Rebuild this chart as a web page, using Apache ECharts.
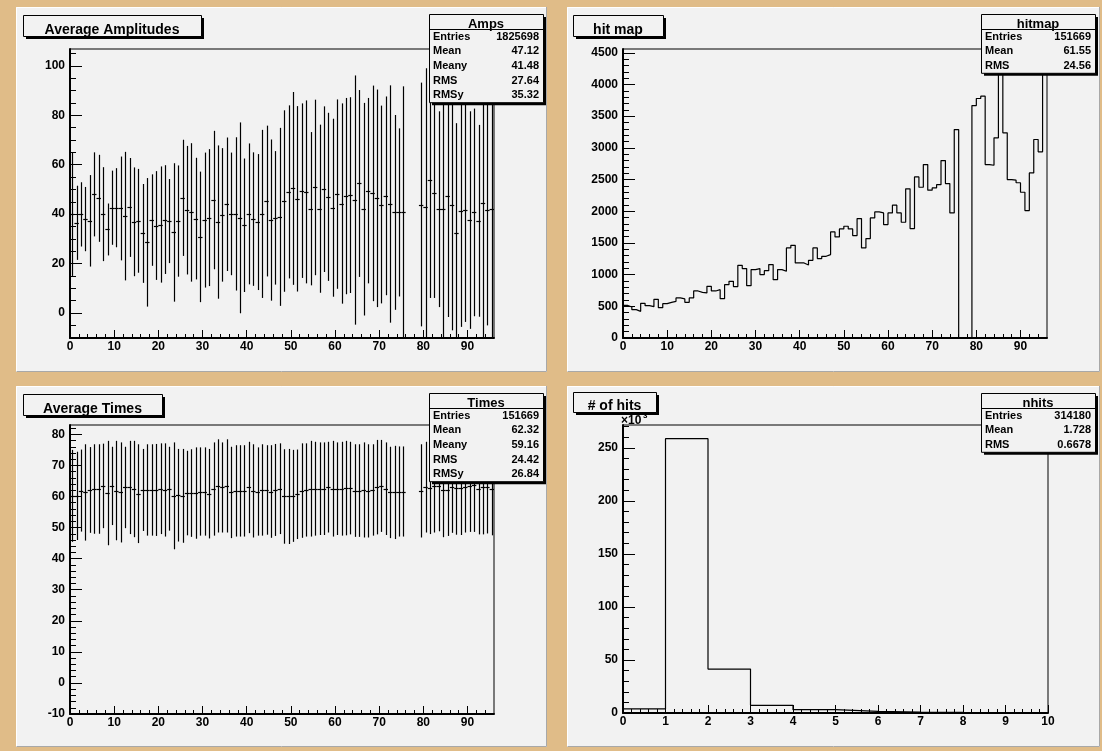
<!DOCTYPE html>
<html><head><meta charset="utf-8">
<script src="https://cdn.jsdelivr.net/npm/echarts@6/dist/echarts.min.js"></script>
<style>html,body{margin:0;padding:0;background:#e0bc88;}#c{width:1102px;height:751px;}</style>
</head><body><div id="c"></div>
<script>
// ---------------- data ----------------
// Average Amplitudes (profile, 96 bins): mean and spread per bin (null = empty bin)
const ampMean = [40, 36.5, 39.9, 38, 37.3, 48, 46.4, 40, 33.8, 42.6,
 42.6, 42.3, 39.2, 42.7, 36.9, 37.3, 32.2, 28.6, 37.6, 35.4,
 35.8, 37.8, 37.2, 32.6, 37.2, 46.6, 41.6, 40.7, 38.2, 30.8,
 37.6, 38.6, 45.7, 36.8, 39.7, 44, 40.1, 40.1, 38.5, 35.5,
 40.1, 38, 36.8, 40.1, 45.3, 37.6, 38.5, 38.9, 45.3, 49,
 50.4, 46.2, 49.5, 49, 42.2, 50.8, 42.2, 50.1, 47, 42.6,
 48.1, 44.3, 47.3, 47.7, 45.7, 52.4, 42, 49.5, 48.4, 46.4,
 43.9, 47.4, 44.1, 40.7, 40.7, 40.7, null, null, null, 43.9,
 43, 53.8, 48.4, 42, 42, 47.3, 43.6, 32.2, 41.4, 41.8,
 37.6, 40.7, 37.3, 44.5, 41.6, 42];
const ampErr = [25, 15, 13, 13, 18.5, 17, 17.6, 19, 10.5, 15,
 16, 21, 26, 20, 22, 21, 20, 26, 18.5, 22,
 23.5, 22, 17, 28, 22.5, 23.5, 26, 28, 24.6, 26.4,
 27.3, 27.7, 28, 31, 27, 27, 24.8, 31, 38.6, 27,
 28.5, 27, 27.5, 34, 30.5, 32.6, 27, 36, 36.7, 35,
 39, 37.5, 35.3, 37, 31, 35.5, 34, 33.5, 34, 36,
 38.3, 40.5, 39.7, 39.6, 50.4, 37.8, 43, 37.5, 43.6, 44,
 40, 40.2, 48, 39.4, 34, 51, null, null, null, 49.3,
 56, 47.7, 42.3, 39.6, 53, 48.9, 50.6, 44.6, 47, 45.4,
 44, 42, 38.8, 55, 46.6, 53];

// hit map (histogram, 96 bins)
const hitmap = [516, 489, 447, 421, 547, 510, 495, 610, 479, 542,
 563, 579, 632, 616, 563, 632, 742, 721, 711, 816,
 742, 763, 621, 842, 895, 811, 1147, 1095, 826, 1079,
 1095, 1000, 1063, 1158, 921, 1079, 1053, 1421, 1463, 1184,
 1184, 1153, 1226, 1421, 1253, 1289, 1316, 1674, 1595, 1721,
 1763, 1721, 1616, 1884, 1421, 1568, 1895, 1989, 1974, 1789,
 1974, 2095, 1974, 1826, 2353, 1726, 2542, 2379, 2737, 2332,
 2368, 2420, 2800, 2437, 1974, 3289, 0, 0, 0, 3668,
 3779, 3816, 2737, 2726, 3158, 4343, 3237, 2500, 2490, 2450,
 2300, 2011, 2605, 3132, 2937, 4300];

// Average Times (profile, 96 bins)
const timeMean = [60.2, 60.2, 61.9, 61.3, 62.1, 62.4, 62.4, 63.4, 61.1, 63.4,
 61.9, 61.3, 62.9, 62.9, 62.4, 60.9, 62.1, 62.1, 62.1, 62.1,
 62.5, 62.1, 62.5, 60.2, 60.4, 60.2, 61.1, 61.1, 61.1, 61.6,
 61.6, 60.9, 62.4, 63.4, 62.9, 63.4, 61.3, 61.8, 61.8, 61.8,
 62.9, 61.8, 61.6, 62.1, 62.1, 61.6, 62.1, 62.5, 60.0, 60.0,
 60.2, 60.7, 61.9, 62.1, 62.5, 62.5, 62.5, 62.5, 63.0, 62.5,
 62.5, 62.5, 62.7, 62.7, 61.9, 61.9, 62.1, 61.8, 62.1, 63.0,
 63.4, 62.5, 61.3, 61.3, 61.6, 61.6, null, null, null, 61.8,
 63.0, 62.7, 63.4, 63.4, 62.1, 62.1, 63.0, 62.7, 62.7, 63.0,
 63.4, 63.6, 62.5, 63.0, 63.0, 62.5];
const timeErr = [14.8, 14.2, 13.2, 15.5, 13.8, 14.4, 14.4, 13.6, 16.8, 12.6,
 16.0, 16.1, 13.1, 15.0, 15.5, 15.9, 13.2, 14.7, 14.7, 14.8,
 14.6, 15.0, 13.5, 17.2, 14.9, 15.1, 13.6, 14.1, 14.7, 14.2,
 14.2, 14.4, 15.0, 15.0, 14.5, 15.0, 14.7, 14.7, 14.7, 14.7,
 14.7, 15.0, 14.2, 14.7, 14.4, 14.9, 14.8, 14.6, 15.2, 15.3,
 14.8, 14.4, 15.2, 15.0, 15.4, 15.1, 14.9, 14.9, 14.6, 15.4,
 14.9, 15.1, 15.2, 14.9, 14.9, 14.9, 15.3, 15.0, 14.7, 15.2,
 14.8, 14.9, 14.7, 15.0, 14.5, 14.5, null, null, null, 15.0,
 14.6, 14.8, 15.0, 14.6, 15.2, 14.8, 14.7, 15.0, 15.1, 14.6,
 14.8, 15.0, 14.7, 15.2, 14.9, 15.0];

// # of hits (histogram, 10 bins, in units of 10^3)
const nhits = [3.8, 258.7, 41.4, 7.2, 3.1, 1.6, 0.8, 0.5, 0.3, 0.2];

// tick labels
const binXTicks = [0, 10, 20, 30, 40, 50, 60, 70, 80, 90];
const ampYTicks = [0, 20, 40, 60, 80, 100];
const hitYTicks = [0, 500, 1000, 1500, 2000, 2500, 3000, 3500, 4000, 4500];
const timeYTicks = [-10, 0, 10, 20, 30, 40, 50, 60, 70, 80];
const nhitsXTicks = [0, 1, 2, 3, 4, 5, 6, 7, 8, 9, 10];
const nhitsYTicks = [0, 50, 100, 150, 200, 250];

// stats boxes
const statsAmps = [['Entries', '1825698'], ['Mean', '47.12'], ['Meany', '41.48'], ['RMS', '27.64'], ['RMSy', '35.32']];
const statsHit = [['Entries', '151669'], ['Mean', '61.55'], ['RMS', '24.56']];
const statsTimes = [['Entries', '151669'], ['Mean', '62.32'], ['Meany', '59.16'], ['RMS', '24.42'], ['RMSy', '26.84']];
const statsNhits = [['Entries', '314180'], ['Mean', '1.728'], ['RMS', '0.6678']];

// ---------------- helpers ----------------
const FONT = 'Liberation Sans, Arial, sans-serif';
function minorVals(min, max, step, major) {
  const out = [];
  const n0 = Math.ceil(min / step - 1e-9), n1 = Math.floor(max / step + 1e-9);
  for (let n = n0; n <= n1; n++) {
    const v = +(n * step).toFixed(6);
    const r = v / major;
    if (Math.abs(r - Math.round(r)) > 1e-6) out.push(v);
  }
  return out;
}
function axisPair(dim, gridIndex, min, max, majors, minors, majorLen, minorLen, margin) {
  const pos = dim === 'x' ? 'bottom' : 'left';
  const main = {
    type: 'value', gridIndex, min, max, position: pos, splitLine: { show: false },
    axisLine: { show: true, onZero: false, lineStyle: { color: '#000', width: 2 } },
    axisTick: { show: true, inside: true, length: majorLen, customValues: majors, lineStyle: { color: '#000', width: 1 } },
    axisLabel: { show: true, customValues: majors, margin, formatter: v => String(v), fontFamily: FONT, fontWeight: 'bold', fontSize: 12, color: '#000' },
    minorTick: { show: false }
  };
  const minor = {
    type: 'value', gridIndex, min, max, position: pos, splitLine: { show: false },
    axisLine: { show: false, onZero: false },
    axisTick: { show: true, inside: true, length: minorLen, customValues: minors, lineStyle: { color: '#000', width: 1 } },
    axisLabel: { show: false },
    minorTick: { show: false }
  };
  return [main, minor];
}
function profileData(mean, err) {
  const out = [];
  mean.forEach((m, i) => { if (m !== null) out.push([i, m, err[i]]); });
  return out;
}
function histData(vals) {
  const out = vals.map((v, i) => [i, v]);
  out.push([vals.length, vals[vals.length - 1]]);
  return out;
}
function profileItem(params, api) {
  const i = api.value(0), m = api.value(1), e = api.value(2);
  const pc = api.coord([i + 0.5, m]);
  const pL = api.coord([i, m]), pR = api.coord([i + 1, m]);
  const pT = api.coord([i + 0.5, m + e]), pB = api.coord([i + 0.5, m - e]);
  const x = Math.round(pc[0]) + 0.5, y = Math.round(pc[1]) + 0.5;
  return {
    type: 'group', children: [
      { type: 'line', shape: { x1: x, y1: pT[1], x2: x, y2: pB[1] }, style: { stroke: '#000', lineWidth: 1.2 } },
      { type: 'line', shape: { x1: pL[0], y1: y, x2: pR[0], y2: y }, style: { stroke: '#000', lineWidth: 1.2 } }
    ]
  };
}
function pad(x, y, w, h) {
  return [
    { type: 'rect', z: -5, shape: { x, y, width: w, height: h }, style: { fill: '#f2f2f2' } },
    { type: 'polyline', z: -4, shape: { points: [[x + 0.5, y + h], [x + 0.5, y + 0.5], [x + w, y + 0.5]] }, style: { stroke: '#ffffff', lineWidth: 1, fill: null } },
    { type: 'polyline', z: -4, shape: { points: [[x + 0.5, y + h - 0.5], [x + w - 0.5, y + h - 0.5], [x + w - 0.5, y]] }, style: { stroke: '#a8a8a8', lineWidth: 1, fill: null } }
  ];
}
function titleBox(x, y, w, h, text) {
  return [
    { type: 'rect', z: 100, shape: { x: x + 3, y: y + 3, width: w, height: h }, style: { fill: '#000' } },
    { type: 'rect', z: 101, shape: { x: x + 0.5, y: y + 0.5, width: w, height: h }, style: { fill: '#f2f2f2', stroke: '#000', lineWidth: 1 } },
    { type: 'text', z: 102, x: x + w / 2, y: y + h + 1, style: { text, fontFamily: FONT, fontWeight: 'bold', fontSize: 14, fill: '#000', align: 'center', verticalAlign: 'bottom' } }
  ];
}
function statsBox(x, y, w, rowH, title, rows) {
  const h = rowH * (rows.length + 1);
  const els = [
    { type: 'rect', z: 100, shape: { x: x + 3, y: y + 3, width: w, height: h }, style: { fill: '#000' } },
    { type: 'rect', z: 101, shape: { x: x + 0.5, y: y + 0.5, width: w, height: h }, style: { fill: '#f2f2f2', stroke: '#000', lineWidth: 1 } },
    { type: 'line', z: 102, shape: { x1: x, y1: Math.round(y + rowH) + 0.5, x2: x + w, y2: Math.round(y + rowH) + 0.5 }, style: { stroke: '#000', lineWidth: 1 } },
    { type: 'text', z: 102, x: x + w / 2, y: y + rowH + 2, style: { text: title, fontFamily: FONT, fontWeight: 'bold', fontSize: 13, fill: '#000', align: 'center', verticalAlign: 'bottom' } }
  ];
  rows.forEach((r, k) => {
    const cy = y + rowH * (k + 1.5) + 0.5;
    els.push({ type: 'text', z: 102, x: x + 4, y: cy, style: { text: r[0], fontFamily: FONT, fontWeight: 'bold', fontSize: 11, fill: '#000', align: 'left', verticalAlign: 'middle' } });
    els.push({ type: 'text', z: 102, x: x + w - 4, y: cy, style: { text: r[1], fontFamily: FONT, fontWeight: 'bold', fontSize: 11, fill: '#000', align: 'right', verticalAlign: 'middle' } });
  });
  return els;
}

// ---------------- option ----------------
const grids = [
  { left: 70, top: 49, width: 424, height: 289 },
  { left: 623, top: 49, width: 424, height: 289 },
  { left: 70, top: 425, width: 424, height: 289 },
  { left: 623, top: 425, width: 425, height: 288 }
].map(g => Object.assign(g, { show: true, borderColor: '#000', borderWidth: 1, backgroundColor: 'transparent', containLabel: false, outerBoundsMode: 'none' }));

const xAxes = [].concat(
  axisPair('x', 0, 0, 96, binXTicks, minorVals(0, 95, 2, 10), 8, 4, 3),
  axisPair('x', 1, 0, 96, binXTicks, minorVals(0, 95, 2, 10), 8, 4, 3),
  axisPair('x', 2, 0, 96, binXTicks, minorVals(0, 95, 2, 10), 8, 4, 3),
  axisPair('x', 3, 0, 10, nhitsXTicks, minorVals(0, 10, 0.2, 1), 8, 4, 3)
);
const yAxes = [].concat(
  axisPair('y', 0, -10.1, 106.8, ampYTicks, minorVals(-10.1, 106.8, 5, 20), 12, 6, 5),
  axisPair('y', 1, 0, 4560, hitYTicks, minorVals(0, 4560, 100, 500), 12, 6, 5),
  axisPair('y', 2, -10, 83, timeYTicks, minorVals(-10, 83, 2, 10), 12, 6, 5),
  axisPair('y', 3, 0, 271.6, nhitsYTicks, minorVals(0, 271.6, 10, 50), 12, 6, 5)
);

const graphics = [].concat(
  pad(16, 7, 531, 365), pad(567, 7, 533, 365), pad(16, 386, 531, 361), pad(567, 386, 533, 361),
  titleBox(23, 15, 178, 21, 'Average Amplitudes'),
  titleBox(573, 15, 90, 21, 'hit map'),
  titleBox(23, 394, 139, 21, 'Average Times'),
  titleBox(573, 392, 83, 20, '# of hits'),
  statsBox(429, 14, 114, 14.7, 'Amps', statsAmps),
  statsBox(981, 14, 114, 14.7, 'hitmap', statsHit),
  statsBox(429, 393, 114, 14.7, 'Times', statsTimes),
  statsBox(981, 393, 114, 14.7, 'nhits', statsNhits),
  [
    { type: 'text', z: 50, x: 621, y: 421, style: { text: '\u00d710', fontFamily: FONT, fontWeight: 'bold', fontSize: 12, fill: '#000', align: 'left', verticalAlign: 'middle' } },
    { type: 'text', z: 50, x: 643, y: 416, style: { text: '3', fontFamily: FONT, fontWeight: 'bold', fontSize: 8, fill: '#000', align: 'left', verticalAlign: 'middle' } }
  ]
);

const option = {
  animation: false,
  backgroundColor: '#e0bc88',
  grid: grids,
  xAxis: xAxes,
  yAxis: yAxes,
  graphic: { elements: graphics },
  series: [
    { type: 'custom', xAxisIndex: 0, yAxisIndex: 0, clip: true, silent: true, renderItem: profileItem, encode: { x: 0, y: 1 }, data: profileData(ampMean, ampErr) },
    { type: 'line', xAxisIndex: 2, yAxisIndex: 2, step: 'end', symbol: 'none', clip: true, silent: true, lineStyle: { color: '#000', width: 1.2 }, data: histData(hitmap) },
    { type: 'custom', xAxisIndex: 4, yAxisIndex: 4, clip: true, silent: true, renderItem: profileItem, encode: { x: 0, y: 1 }, data: profileData(timeMean, timeErr) },
    { type: 'line', xAxisIndex: 6, yAxisIndex: 6, step: 'end', symbol: 'none', clip: true, silent: true, lineStyle: { color: '#000', width: 1.2 }, data: histData(nhits) }
  ]
};
const chart = echarts.init(document.getElementById('c'), null, { renderer: 'canvas', width: 1102, height: 751 });
chart.setOption(option);
</script>
</body></html>
